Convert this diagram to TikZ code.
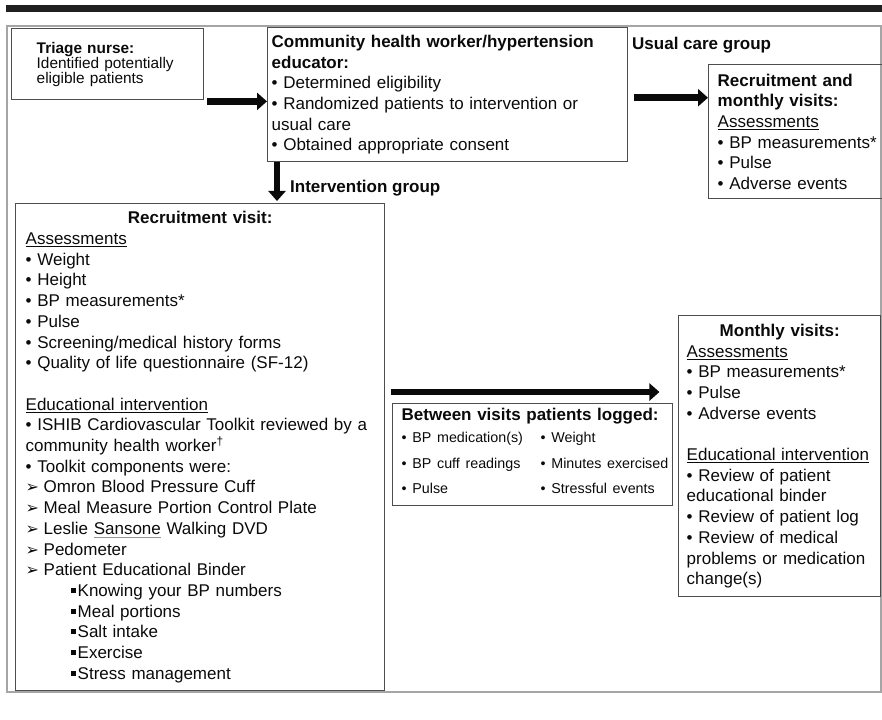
\documentclass[tikz,border=0pt]{standalone}
\usepackage{fontspec}
\setmainfont{Liberation Sans}
\newfontfamily\dingfont{DejaVu Sans}
\usepackage{tikz}
\usetikzlibrary{arrows.meta,positioning}
\definecolor{BoxLine}{RGB}{78,78,78}
\definecolor{FrameGray}{RGB}{165,165,165}
\definecolor{BarBlack}{RGB}{32,32,32}
\definecolor{InkBlack}{RGB}{10,10,10}
\definecolor{SpellGray}{RGB}{150,150,150}
\newcommand{\mainsize}{\fontsize{17}{20.7}\selectfont}
\newcommand{\ulineit}[1]{\leavevmode\setbox0\hbox{#1}\rlap{\rule[-2.8pt]{\wd0}{1.1pt}}\box0\relax}
\newcommand{\spellmark}[1]{\leavevmode\setbox0\hbox{#1}\rlap{\textcolor{SpellGray}{\rule[-3pt]{\wd0}{0.7pt}}}\box0\relax}
\newcommand{\arrbullet}{\leavevmode\makebox[18pt][l]{\dingfont\fontsize{16}{16}\selectfont ➢}}
\newcommand{\sqbullet}{\leavevmode\hspace*{45pt}\rule[3.5pt]{5pt}{5pt}\hspace{2pt}}
\newcommand{\headline}[1]{\leavevmode\hfill\textbf{#1}\hfill\null}

\begin{document}
\begin{tikzpicture}[
  x=1pt, y=-1pt,
  box/.style={draw=BoxLine, line width=1.4pt, anchor=north west, align=left,
    inner ysep=0pt, font=\mainsize, text=InkBlack},
  grouplabel/.style={font=\mainsize\bfseries, inner sep=0pt, text=InkBlack, anchor=west},
  arr/.style={-{Triangle[length=10pt,width=17pt]}, line width=6.5pt, draw=InkBlack},
]
\useasboundingbox (0,0) rectangle (882,719);
\fill[BarBlack] (6,5) rectangle (882,12);
\draw[FrameGray, line width=1.5pt] (7,26) rectangle (881,692);

\node[box, text width=142pt, inner xsep=25pt, minimum height=71pt,
  font=\fontsize{15.4}{15}\selectfont] (triage) at (11,28)
  {\textbf{Triage nurse:}\\Identified potentially\\eligible patients};
\node[box, text width=352pt, inner xsep=4pt, minimum height=134pt] (comm) at (267,27)
  {\textbf{Community health worker/hypertension}\\\textbf{educator:}\\
   • Determined eligibility\\• Randomized patients to intervention or\\usual care\\
   • Obtained appropriate consent};
\node[box, text width=166pt, inner xsep=9pt, minimum height=134pt] (usual) at (708,64)
  {\textbf{Recruitment and}\\\textbf{monthly visits:}\\\ulineit{Assessments}\\
   • BP measurements*\\• Pulse\\• Adverse events};
\node[box, text width=349pt, inner xsep=10pt, minimum height=487pt] (recruit) at (15,203)
  {\headline{Recruitment visit:}\\
   \ulineit{Assessments}\\
   • Weight\\
   • Height\\
   • BP measurements*\\
   • Pulse\\
   • Screening/medical history forms\\
   • Quality of life questionnaire (SF-12)\\[20.7pt]
   \ulineit{Educational intervention}\\
   • ISHIB Cardiovascular Toolkit reviewed by a\\
   community health worker\textsuperscript{†}\\
   • Toolkit components were:\\
   \arrbullet Omron Blood Pressure Cuff\\
   \arrbullet Meal Measure Portion Control Plate\\
   \arrbullet Leslie \spellmark{Sansone} Walking DVD\\
   \arrbullet Pedometer\\
   \arrbullet Patient Educational Binder\\
   \sqbullet Knowing your BP numbers\\
   \sqbullet Meal portions\\
   \sqbullet Salt intake\\
   \sqbullet Exercise\\
   \sqbullet Stress management};
\node[box, text width=262pt, inner xsep=9pt, minimum height=102pt] (between) at (392,403)
  {\textbf{Between visits patients logged:}\\
   {\fontsize{14.3}{25.5}\selectfont
   \begin{tabular}{@{}p{139pt}@{}l@{}}
   • BP medication(s) & • Weight\\
   • BP cuff readings & • Minutes exercised\\
   • Pulse & • Stressful events
   \end{tabular}}};
\node[box, text width=186pt, inner xsep=8pt, minimum height=281pt] (monthly) at (678,315)
  {\headline{Monthly visits:}\\\ulineit{Assessments}\\
   • BP measurements*\\• Pulse\\• Adverse events\\[20.7pt]
   \ulineit{Educational intervention}\\
   • Review of patient\\educational binder\\
   • Review of patient log\\
   • Review of medical\\problems or medication\\change(s)};

\node[grouplabel] (usuallbl) at (632,45) {Usual care group};
\node[grouplabel] (intlbl) at (290,188) {Intervention group};

\draw[arr] ([xshift=3pt,yshift=-1pt]triage.south east) -- ([yshift=-1pt]triage.south east -| comm.west);
\draw[arr] ([xshift=6pt,yshift=-3pt]comm.east) -- ([yshift=-3pt]comm.east -| usual.west);
\draw[arr] ([xshift=10pt]comm.south west) -- ([xshift=10pt,yshift=2pt]comm.south west |- recruit.north);
\draw[arr] ([xshift=6pt,yshift=11pt]recruit.east |- between.north) -- ([xshift=-14pt,yshift=11pt]between.north east);
\end{tikzpicture}
\end{document}
